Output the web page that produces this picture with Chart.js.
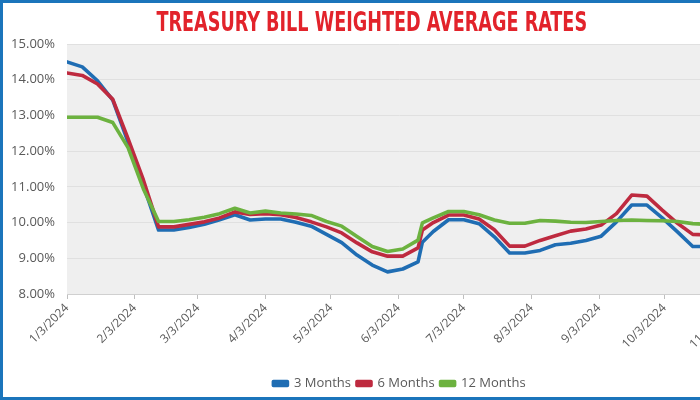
<!DOCTYPE html>
<html>
<head>
<meta charset="utf-8">
<script src="https://cdn.jsdelivr.net/npm/chart.js@4.4.1/dist/chart.umd.min.js"></script>
<style>
html,body{margin:0;padding:0;width:700px;height:400px;overflow:hidden;background:#fff;}
#frame{position:absolute;left:0;top:0;width:760px;height:400px;box-sizing:border-box;border:3px solid #1b75bb;background:#fff;}
#wrap{position:absolute;left:0;top:0;width:754px;height:394px;}
#title{position:absolute;left:0;top:3px;width:738px;text-align:center;z-index:2;pointer-events:none;}
#title span{display:inline-block;white-space:nowrap;font-family:"Liberation Sans Narrow","DejaVu Sans Condensed","Liberation Sans",sans-serif;font-weight:bold;font-size:27px;line-height:32px;color:#e2232b;transform-origin:50% 50%;}
</style>
</head>
<body>
<div id="frame">
  <div id="wrap"><canvas id="c" width="754" height="394"></canvas></div>
  <div id="title"><span id="tspan">TREASURY BILL WEIGHTED AVERAGE RATES</span></div>
</div>
<script>
// ---- data ----
const dates = [
  '1/3/2024','1/10/2024','1/17/2024','1/24/2024','1/31/2024','2/7/2024','2/14/2024','2/21/2024','2/28/2024',
  '3/6/2024','3/13/2024','3/20/2024','3/27/2024','4/3/2024','4/10/2024','4/17/2024','4/24/2024',
  '5/1/2024','5/8/2024','5/15/2024','5/22/2024','5/29/2024','6/5/2024','6/12/2024','6/14/2024','6/19/2024','6/26/2024',
  '7/3/2024','7/10/2024','7/17/2024','7/24/2024','7/31/2024','8/7/2024','8/14/2024','8/21/2024','8/28/2024',
  '9/4/2024','9/11/2024','9/18/2024','9/25/2024','10/2/2024','10/9/2024','10/16/2024','10/23/2024','10/30/2024'
];
const threeMonths = [
  14.50,14.36,13.97,13.43,12.25,11.05,9.79,9.79,9.86,
  9.95,10.08,10.22,10.07,10.10,10.10,10.01,9.90,
  9.67,9.44,9.09,8.81,8.62,8.70,8.90,9.45,9.75,10.08,
  10.08,9.97,9.60,9.15,9.15,9.22,9.38,9.42,9.50,
  9.62,10.02,10.49,10.49,10.13,9.74,9.33,9.33,9.30
];
const sixMonths = [
  14.19,14.12,13.88,13.45,12.35,11.20,9.88,9.88,9.95,
  10.02,10.13,10.30,10.23,10.25,10.22,10.14,10.02,
  9.88,9.71,9.43,9.18,9.06,9.06,9.29,9.79,10.00,10.21,
  10.21,10.10,9.80,9.34,9.34,9.50,9.63,9.76,9.82,
  9.93,10.25,10.77,10.74,10.35,9.98,9.67,9.65,9.62
];
const twelveMonths = [
  12.95,12.95,12.95,12.80,12.10,10.95,10.03,10.03,10.08,
  10.15,10.25,10.40,10.27,10.32,10.27,10.24,10.20,
  10.03,9.90,9.61,9.33,9.19,9.26,9.51,9.99,10.13,10.31,
  10.31,10.22,10.07,9.98,9.98,10.06,10.04,10.01,10.00,
  10.03,10.06,10.07,10.06,10.05,10.03,9.97,9.95,9.94
];
const tickDates = ['1/3/2024','2/3/2024','3/3/2024','4/3/2024','5/3/2024','6/3/2024','7/3/2024','8/3/2024','9/3/2024','10/3/2024','11/3/2024'];
const seriesNames = ['3 Months','6 Months','12 Months'];
const seriesColors = ['#1f6db3','#be2a3f','#6cb23f'];
const yTicks = [8,9,10,11,12,13,14,15];

// ---- helpers ----
function dayIndex(s){
  const p = s.split('/').map(Number);
  return Math.round((Date.UTC(p[2],p[0]-1,p[1]) - Date.UTC(2024,0,3)) / 86400000);
}
const xs = dates.map(dayIndex);
const tickVals = tickDates.map(dayIndex);
const toPts = arr => arr.map((v,i) => ({x: xs[i], y: v}));
const seriesValues = [threeMonths, sixMonths, twelveMonths];

// title fit
const ts = document.getElementById('tspan');
ts.style.transform = 'scaleX(' + (431 / ts.offsetWidth) + ')';

const plotBg = {
  id: 'plotBg',
  beforeDraw(chart){
    const a = chart.chartArea, ctx = chart.ctx;
    ctx.save();
    ctx.fillStyle = '#efefef';
    ctx.fillRect(a.left, a.top, a.right - a.left, a.bottom - a.top);
    ctx.restore();
  }
};

new Chart(document.getElementById('c'), {
  type: 'line',
  data: {
    datasets: seriesNames.map((name, i) => ({
      label: name,
      data: toPts(seriesValues[i]),
      borderColor: seriesColors[i],
      backgroundColor: seriesColors[i],
      borderWidth: 3.6,
      pointRadius: 0,
      tension: 0,
      borderJoinStyle: 'round',
      borderCapStyle: 'round',
      order: 3 - i
    }))
  },
  options: {
    responsive: false,
    animation: false,
    devicePixelRatio: 1,
    layout: { padding: { top: 41, right: 25, bottom: -3, left: 0 } },
    plugins: {
      title: { display: false },
      tooltip: { enabled: false },
      legend: {
        position: 'bottom',
        fullSize: false,
        labels: {
          boxWidth: 14,
          boxHeight: 4,
          padding: 6,
          color: '#595959',
          font: { family: 'Open Sans', size: 13 },
          sort: (a, b) => a.datasetIndex - b.datasetIndex
        }
      }
    },
    scales: {
      x: {
        type: 'linear',
        min: tickVals[0],
        max: tickVals[tickVals.length - 1],
        afterBuildTicks: s => { s.ticks = tickVals.map(v => ({ value: v })); },
        afterFit: s => { s.height = 77; },
        ticks: {
          autoSkip: false,
          minRotation: 45,
          maxRotation: 45,
          padding: 2,
          color: '#595959',
          font: { family: 'Open Sans', size: 12 },
          callback: (v, i) => tickDates[i]
        },
        grid: { drawOnChartArea: false, drawTicks: true, tickLength: 5, color: '#bfbfbf' },
        border: { display: true, color: '#d0d0d0' }
      },
      y: {
        min: 8,
        max: 15,
        afterBuildTicks: s => { s.ticks = yTicks.map(v => ({ value: v })); },
        afterFit: s => { s.width = 64; },
        ticks: {
          padding: 12,
          color: '#595959',
          font: { family: 'Open Sans', size: 13 },
          callback: v => v.toFixed(2) + '%'
        },
        grid: { color: '#e0e0e0', drawTicks: false },
        border: { display: false }
      }
    }
  },
  plugins: [plotBg]
});
</script>
</body>
</html>
